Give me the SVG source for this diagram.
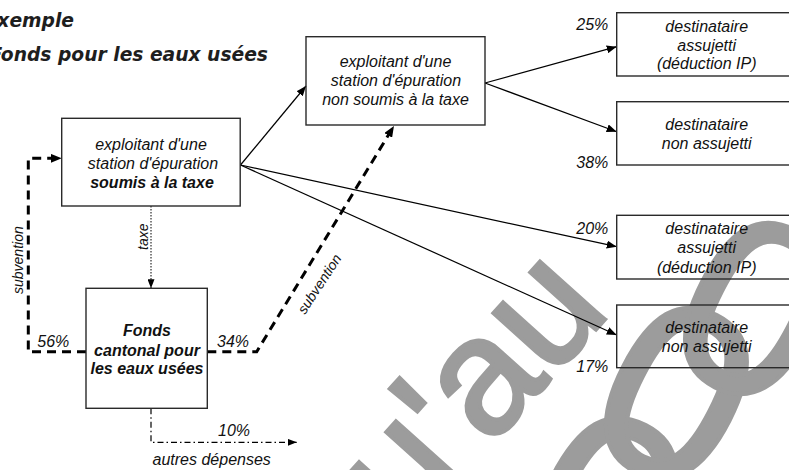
<svg xmlns="http://www.w3.org/2000/svg" width="789" height="470" viewBox="0 0 789 470">
<style>
.wm{font-family:"Liberation Sans",Arial,sans-serif;fill:#9c9c9c;stroke:#9c9c9c;stroke-width:4}
.box{fill:none;stroke:#2a2a2a;stroke-width:1.4}
.t{font-family:"Liberation Sans",Arial,sans-serif;font-style:italic;font-size:16px;fill:#111;text-anchor:middle}
.b{font-weight:bold}
.lab{font-family:"Liberation Sans",Arial,sans-serif;font-style:italic;font-size:16px;fill:#111}
.sm{font-size:14px}
.title{font-family:"DejaVu Sans","Open Sans",sans-serif;font-style:italic;font-weight:bold;font-size:18.7px;fill:#1e1e1e;text-anchor:end}
.ar{fill:none;stroke:#000;stroke-width:1.2;marker-end:url(#ah)}
.dash{fill:none;stroke:#000;stroke-width:3;stroke-dasharray:9 6;marker-end:url(#ahd)}
.dot{fill:none;stroke:#000;stroke-width:1;stroke-dasharray:1.5 1.5;marker-end:url(#ahs)}
.dd{fill:none;stroke:#000;stroke-width:1.2;stroke-dasharray:6 3 1.5 3;marker-end:url(#ahs)}
</style>
<defs>
<marker id="ah" markerUnits="userSpaceOnUse" markerWidth="10" markerHeight="8" refX="10" refY="4" orient="auto"><path d="M0,0 L10,4 L0,8 z" fill="#000"/></marker>
<marker id="ahs" markerUnits="userSpaceOnUse" markerWidth="9" markerHeight="7" refX="9" refY="3.5" orient="auto"><path d="M0,0 L9,3.5 L0,7 z" fill="#000"/></marker>
<marker id="ahd" markerUnits="userSpaceOnUse" markerWidth="11" markerHeight="9" refX="3" refY="4.5" orient="auto"><path d="M0,0 L11,4.5 L0,9 z" fill="#000"/></marker>
</defs>
<rect width="789" height="470" fill="#fff"/>
<g id="watermark">
<text class="wm" font-size="165" text-anchor="end" transform="translate(612.4,311.2) rotate(-48)">jusqu'au</text>
<text class="wm" font-size="250" text-anchor="middle" transform="translate(607,500) rotate(27)" y="90" stroke-width="0">0</text>
<text class="wm" font-size="250" text-anchor="middle" transform="translate(678,390) rotate(27)" y="90" stroke-width="0">0</text>
<text class="wm" font-size="250" text-anchor="middle" transform="translate(757,305) rotate(27)" y="90" stroke-width="0">0</text>
</g>
<g id="title">
<text class="title" x="74" y="26.5">Exemple</text>
<text class="title" x="268" y="61">Fonds pour les eaux usées</text>
</g>
<g id="connectors">
<path class="ar" d="M240.5,165 L306,86"/>
<path class="ar" d="M485,83 L616.7,46.7"/>
<path class="ar" d="M485,83 L616.7,131.7"/>
<path class="ar" d="M240.5,165 L616.7,246.7"/>
<path class="ar" d="M240.5,165 L616.7,335"/>
<path class="dot" d="M151,206 V288.3"/>
<path class="dash" d="M86,351.7 H28.3 V158.3 H53.7"/>
<path class="dash" d="M207.3,351.7 H256.7 L389.8,132.8"/>
<path class="dd" d="M151,408.3 V442.3 H296.7"/>
<text class="lab sm" transform="translate(148.3,236.7) rotate(-90)" text-anchor="middle">taxe</text>
<text class="lab sm" transform="translate(22.5,294) rotate(-90)">subvention</text>
<text class="lab sm" transform="translate(323.5,286.5) rotate(-57)" text-anchor="middle">subvention</text>
<text class="lab" x="37.3" y="346.7">56%</text>
<text class="lab" x="217" y="346.7">34%</text>
<text class="lab" x="218" y="436">10%</text>
<text class="lab" x="211.7" y="465" text-anchor="middle">autres dépenses</text>
<text class="lab" x="608.3" y="29.5" text-anchor="end">25%</text>
<text class="lab" x="608.3" y="168.3" text-anchor="end">38%</text>
<text class="lab" x="608.3" y="234" text-anchor="end">20%</text>
<text class="lab" x="608.3" y="371.7" text-anchor="end">17%</text>
</g>
<g id="nodeA">
<rect class="box" x="61.7" y="118.3" width="178.5" height="87.7"/>
<text class="t" x="151" y="150">exploitant d'une</text>
<text class="t" x="153" y="169">station d'épuration</text>
<text class="t b" x="152" y="187.5">soumis à la taxe</text>
</g>
<g id="nodeB">
<rect class="box" x="306" y="36.7" width="179" height="88.3"/>
<text class="t" x="395.5" y="67.3">exploitant d'une</text>
<text class="t" x="396" y="86">station d'épuration</text>
<text class="t" x="395.5" y="105">non soumis à la taxe</text>
</g>
<g id="nodeD">
<rect class="box" x="86" y="288.3" width="121.3" height="120"/>
<text class="t b" x="147" y="335.5">Fonds</text>
<text class="t b" x="147" y="355.5">cantonal pour</text>
<text class="t b" x="147" y="374.3">les eaux usées</text>
</g>
<g id="nodeC1">
<rect class="box" x="616.7" y="12.7" width="180" height="63.3"/>
<text class="t" x="706.7" y="32">destinataire</text>
<text class="t" x="706.7" y="50.8">assujetti</text>
<text class="t" x="706.7" y="69.3">(déduction IP)</text>
</g>
<g id="nodeC2">
<rect class="box" x="616.7" y="101.7" width="180" height="63.3"/>
<text class="t" x="706.7" y="130">destinataire</text>
<text class="t" x="706.7" y="149">non assujetti</text>
</g>
<g id="nodeC3">
<rect class="box" x="616.7" y="215.3" width="180" height="63.7"/>
<text class="t" x="706.7" y="234.3">destinataire</text>
<text class="t" x="706.7" y="253.3">assujetti</text>
<text class="t" x="706.7" y="272.5">(déduction IP)</text>
</g>
<g id="nodeC4">
<rect class="box" x="616.7" y="305" width="180" height="62.7"/>
<text class="t" x="706.7" y="333.3">destinataire</text>
<text class="t" x="706.7" y="351.7">non assujetti</text>
</g>
</svg>
